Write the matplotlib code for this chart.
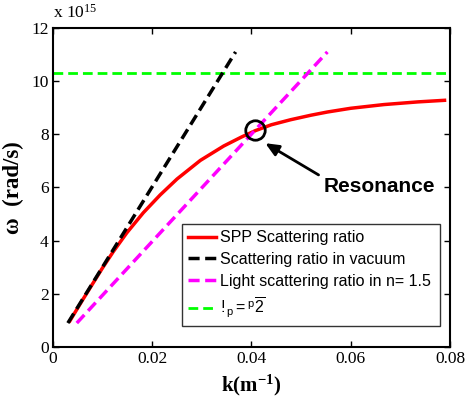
import matplotlib
matplotlib.use("Agg")
import matplotlib.pyplot as plt

plt.rcParams['mathtext.fontset'] = 'custom'
plt.rcParams['mathtext.rm'] = 'Liberation Serif'
plt.rcParams['mathtext.bf'] = 'Liberation Serif:bold'
plt.rcParams['mathtext.sf'] = 'Liberation Sans'
plt.rcParams['mathtext.it'] = 'Liberation Serif:italic'

# Data (omega in units of 1e15 rad/s)
spp_k = [0.0034, 0.0060, 0.0080, 0.0100, 0.0122, 0.0149, 0.0182, 0.0216, 0.0250, 0.0297, 0.0344,
         0.0380, 0.0408, 0.0440, 0.0479, 0.0520, 0.0553, 0.0600, 0.0667, 0.0735, 0.0789]
spp_w = [0.98, 1.78, 2.38, 2.98, 3.60, 4.30, 5.05, 5.72, 6.32, 7.02, 7.56,
         7.90, 8.14, 8.36, 8.55, 8.72, 8.84, 8.98, 9.12, 9.22, 9.28]
vac_k = [0.003, 0.0368]
vac_w = [0.9, 11.1]
n15_k = [0.0048, 0.0553]
n15_w = [0.9, 11.1]
wp_sqrt2 = 10.31
res_k, res_w = 0.0408, 8.16
xticks = [0, 0.02, 0.04, 0.06, 0.08]
xticklabels = ['0', '0.02', '0.04', '0.06', '0.08']
yticks = [0, 2, 4, 6, 8, 10, 12]

fig = plt.figure(figsize=(4.68, 4.03), dpi=100)
ax = fig.add_axes([0.1132, 0.139, 0.8483, 0.7915])

ax.plot(spp_k, spp_w, color='#ff0000', lw=2.5, label='SPP Scattering ratio', zorder=3)
ax.plot(vac_k, vac_w, color='black', lw=2.5, ls=(0, (3.2, 1.6)), label='Scattering ratio in vacuum', zorder=4)
ax.plot(n15_k, n15_w, color='#ff00ff', lw=2.5, ls=(0, (3.2, 1.6)), label='Light scattering ratio in n= 1.5', zorder=4)
ax.axhline(wp_sqrt2, color='#00ff00', lw=2, ls=(0, (3.5, 1.8)),
           label=r'$\mathsf{!}_{\mathsf{p}}\mathsf{=}^{\mathsf{p}}\overline{\mathsf{2}}$', zorder=2)

ax.plot([res_k], [res_w], 'o', mfc='none', mec='black', ms=14, mew=2, zorder=5)
ax.annotate('', xy=(0.0423, 7.72), xytext=(0.0540, 6.42),
            arrowprops=dict(arrowstyle='-|>,head_length=0.8,head_width=0.35', color='black', lw=2))
ax.text(0.0545, 6.04, 'Resonance', fontsize=15, fontweight='bold', family='Liberation Sans',
        ha='left', va='center')

ax.set_xlim(0, 0.08)
ax.set_ylim(0, 12)
ax.set_xticks(xticks)
ax.set_xticklabels(xticklabels)
ax.set_yticks(yticks)
ax.tick_params(direction='in', length=4, width=1, top=True, right=True, labelsize=12.5, pad=3)
for lab in ax.get_xticklabels() + ax.get_yticklabels():
    lab.set_family('Liberation Serif')
for s in ax.spines.values():
    s.set_linewidth(1.5)

ax.set_xlabel(r'k(m$^{\mathbf{-1}}$)', fontsize=15, fontweight='bold', family='Liberation Serif', labelpad=4)
ax.set_ylabel('ω  (rad/s)', fontsize=16.5, fontweight='bold', family='Liberation Serif', labelpad=5)

fig.text(0.113, 0.945, r'x 10$^{15}$', fontsize=12.5, family='Liberation Serif', ha='left', va='bottom')

leg = ax.legend(loc='lower left', bbox_to_anchor=(0.325, 0.066, 0.65, 0.313), mode='expand',
                prop={'family': 'Liberation Sans', 'size': 11.5}, frameon=True, fancybox=False,
                edgecolor='black', handlelength=1.7, handletextpad=0.3, labelspacing=0.42,
                borderpad=0.4, borderaxespad=0)
leg.get_frame().set_linewidth(1.0)

fig.savefig('out.png', dpi=100)
